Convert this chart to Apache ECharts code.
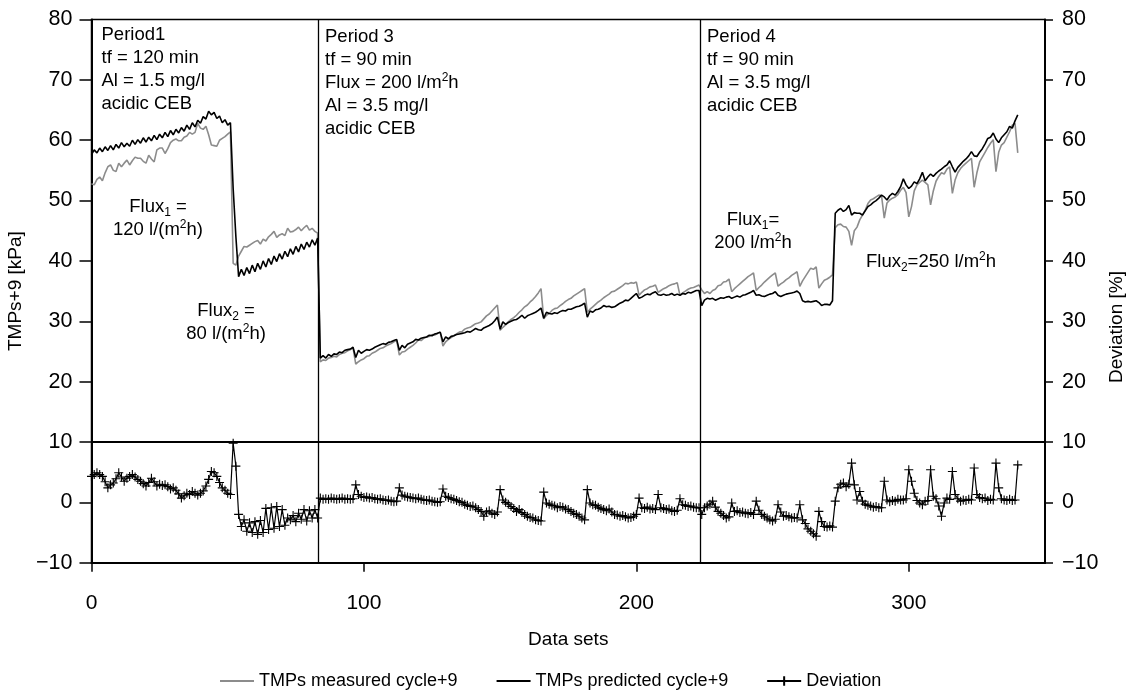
<!DOCTYPE html>
<html><head><meta charset="utf-8">
<script src="https://cdn.jsdelivr.net/npm/echarts@6/dist/echarts.min.js"></script>
<style>html,body{margin:0;padding:0;background:#fff}#c{width:1137px;height:690px}</style>
</head><body><div id="c"></div>
<script>
// ---- axis / tick data ----
const xTickValues = [0, 100, 200, 300];
const xRange = [0, 350];
const yRange = [-10, 80];
const periodBoundaries = [83.4, 223.3];
const deviationZoneTop = 10;

// ---- TMPs measured cycle+9 (data sets 0..340) ----
const measuredP1 = [
  52.8, 52.6, 53.5, 53.9, 53.3, 54.6, 55.6, 55.9, 55.0, 54.8,
  56.2, 55.6, 56.2, 56.7, 55.9, 56.6, 57.2, 57.0, 57.0, 56.5,
  56.2, 57.5, 56.9, 56.4, 58.4, 58.7, 58.7, 57.8, 58.6, 59.6,
  60.0, 60.2, 59.9, 59.9, 60.5, 60.7, 61.3, 61.0, 61.3, 62.8,
  62.0, 61.8, 62.3, 60.9, 59.2, 59.1, 59.0, 60.0, 60.3, 60.6,
  61.0, 61.4,
  39.6, 39.3, 40.8, 41.6, 42.4, 42.3, 42.6, 42.9, 43.2, 43.4,
  42.8, 43.6, 43.3, 44.0, 44.4, 44.9, 43.9, 44.3, 44.5, 44.2,
  45.4, 44.8, 44.9, 45.2, 45.6, 45.0, 45.5, 45.9, 45.1, 45.4,
  44.9, 44.6
];
const measuredP3 = [
  23.3, 23.6, 23.5, 23.9, 24.0, 24.2, 24.1, 24.5, 24.7, 24.8, 25.1, 25.3, 25.6,
  22.9, 23.3, 23.6, 23.8, 24.2, 24.3, 24.7, 24.9, 25.2, 25.5, 25.6, 25.9, 26.1, 26.3, 26.6, 26.9,
  24.4, 24.9, 25.0, 25.4, 25.7, 26.0, 26.4, 26.9, 26.8, 27.2, 27.4, 27.5, 27.8, 27.7, 28.0, 28.2,
  25.9, 26.6, 27.0, 27.3, 27.6, 27.9, 28.2, 28.3, 28.7, 28.9, 29.0, 29.3, 29.6, 29.7, 29.9, 30.4, 30.9, 31.2, 31.7, 32.2, 32.7,
  28.5, 29.0, 29.4, 29.9, 30.3, 30.6, 31.0, 31.5, 31.9, 32.4, 32.7, 33.2, 33.6, 34.1, 34.7, 35.4,
  30.4, 31.0, 31.3, 31.8, 32.1, 32.2, 32.6, 32.9, 33.3, 33.6, 33.8, 34.2, 34.5, 34.8, 35.1, 35.4,
  31.5, 32.0, 32.4, 32.8, 33.2, 33.5, 33.9, 34.2, 34.5, 34.9, 35.0, 35.3, 35.6, 35.9, 36.3, 36.2, 36.4, 36.3, 36.5,
  34.3, 34.8, 35.2, 35.4, 35.7, 35.8, 36.0,
  34.8, 35.1, 35.4, 35.6, 35.9, 36.1, 36.2, 36.4,
  34.3, 34.7, 35.0, 35.3, 35.5, 35.6, 35.8, 36.0
];
const measuredP4 = [
  35.2, 34.6, 34.9, 34.6, 35.1, 35.3, 35.9, 36.0, 36.5, 36.6, 37.0,
  34.9, 35.4, 35.8, 36.2, 36.6, 37.0, 37.4, 37.7, 38.0,
  35.1, 35.6, 36.0, 36.5, 36.9, 37.3, 37.7, 38.0,
  35.8, 36.2, 36.5, 36.9, 37.2, 37.6, 37.9, 38.2,
  35.8, 36.7, 37.4, 38.1, 38.8, 38.6, 39.0,
  35.5, 36.2, 36.8, 37.0, 37.3, 37.7,
  45.5, 46.0, 46.1, 45.7, 45.6, 44.9, 42.6, 45.0, 45.6, 46.8,
  47.6, 48.4, 49.5, 50.1, 50.3, 50.6, 50.9, 50.8, 47.1, 49.6,
  50.1, 50.4, 50.6, 51.0, 51.7, 52.2, 51.3, 47.3, 49.0, 51.6,
  52.6, 53.0, 53.4, 53.0, 52.6, 49.3, 51.6, 53.2, 54.0, 54.6,
  54.4, 55.2, 55.6, 51.2, 53.4, 54.6, 55.3, 55.8, 56.2, 56.6,
  57.0, 52.2, 54.6, 56.4, 57.2, 58.0, 58.8, 59.5, 60.1, 54.8,
  58.0, 59.2, 59.6, 60.5, 61.4, 62.5, 62.8, 57.9
];

// ---- TMPs predicted cycle+9 ----
const predictedP1 = [
  57.6, 58.4, 57.9, 58.7, 58.1, 58.9, 58.3, 59.1, 58.4, 59.3,
  58.7, 59.6, 58.9, 59.5, 59.0, 60.0, 59.3, 60.1, 59.5, 60.4,
  59.7, 60.5, 59.9, 60.8, 60.1, 61.0, 60.4, 61.3, 60.6, 61.6,
  60.9, 61.8, 61.2, 62.1, 61.5, 62.5, 61.8, 62.9, 62.2, 63.3,
  62.8, 63.9, 63.5, 64.8, 64.2, 64.6, 63.6, 64.0, 62.9, 63.4,
  62.5, 62.9,
  52.0, 44.0, 37.4, 38.6, 37.6, 38.9, 37.9, 39.3, 38.2, 39.6,
  38.6, 40.0, 39.0, 40.4, 39.4, 40.8, 39.9, 41.2, 40.3, 41.6,
  40.7, 42.0, 41.1, 42.4, 41.5, 42.8, 41.9, 43.1, 42.3, 43.5,
  42.6, 43.8
];
const predictedP3 = [
  23.9, 24.3, 23.9, 24.5, 24.2, 24.6, 24.5, 24.9, 24.8, 25.2, 25.3, 25.4, 25.7,
  24.0, 25.2, 24.7, 25.0, 25.3, 25.2, 25.4, 25.7, 25.9, 26.1, 26.3, 26.2, 26.5, 26.6, 26.8, 27.0,
  25.2, 26.0, 25.6, 26.2, 26.4, 26.6, 27.0, 26.9, 27.2, 27.3, 27.4, 27.7, 27.6, 27.9, 28.0, 28.2,
  26.6, 27.4, 27.1, 27.5, 27.6, 27.8, 27.9, 28.0, 28.1, 28.3, 28.2, 28.5, 28.8, 28.6, 28.5, 28.9, 29.1, 29.3, 29.6, 30.1, 30.7,
  28.7, 29.9, 29.5, 29.8, 30.0, 30.2, 30.3, 30.6, 31.0, 30.5, 30.9, 31.1, 31.3, 31.5, 31.8, 32.2,
  30.5, 31.5, 31.3, 31.2, 31.4, 31.3, 31.6, 31.8, 31.7, 32.0, 32.0, 32.2, 32.4, 32.5, 32.7, 33.0,
  30.7, 31.7, 31.5, 31.9, 32.0, 32.2, 32.6, 32.4, 32.5, 32.3, 32.4, 32.7, 33.0, 33.2, 33.5, 33.4, 33.8, 34.2, 34.6,
  33.8, 34.0, 34.3, 34.5, 34.4, 34.7, 34.9,
  34.4, 34.3, 34.5, 34.3, 34.4, 34.6, 34.3, 34.5,
  34.3, 34.6, 34.5, 34.8, 34.7, 34.9, 35.1, 35.1
];
const predictedP4 = [
  32.6, 33.5, 33.8, 33.7, 33.8, 33.5, 33.7, 33.9, 33.8, 34.0, 34.1,
  33.8, 34.0, 34.2, 34.0, 34.3, 34.4, 34.6, 34.8, 35.1,
  34.3, 34.4, 34.2, 34.1, 34.3, 34.5, 34.6, 34.9,
  34.3, 34.1, 34.3, 34.5, 34.6, 34.7, 34.8, 35.0,
  34.6, 33.4, 33.2, 33.3, 33.2, 33.3, 33.4,
  33.1, 32.6, 32.8, 32.8, 32.7, 33.4,
  47.9, 48.4, 48.7, 48.2, 48.5, 49.2, 47.6, 48.0, 47.9, 47.9,
  47.6, 48.3, 49.0, 49.3, 49.7, 50.0, 50.4, 50.9, 50.6, 50.1,
  50.8, 51.2, 50.9, 51.5, 52.3, 53.6, 52.6, 52.0, 52.4, 53.1,
  52.8, 53.6, 54.7, 53.3, 53.9, 54.4, 54.0, 54.5, 54.9, 55.2,
  55.6, 55.9, 56.6, 55.6, 54.7, 55.5, 56.0, 56.5, 56.9, 57.4,
  58.1, 57.4, 57.3, 58.0, 58.6, 59.4, 60.3, 60.5, 61.2, 60.2,
  59.6, 60.4, 60.9, 61.4, 62.3, 62.0, 63.2, 64.2
];

// ---- Deviation [%] ----
const deviationP1 = [
  4.3, 4.6, 4.9, 4.6, 4.3, 3.4, 2.4, 2.9, 3.2, 3.9,
  4.9, 4.2, 3.5, 4.0, 4.3, 4.6, 4.2, 3.8, 3.5, 3.1,
  2.7, 3.3, 4.0, 3.4, 2.7, 3.0, 2.8, 2.9, 2.6, 2.2,
  2.4, 2.0, 1.4, 0.7, 1.1, 1.5, 1.3, 1.8, 1.5, 1.2,
  1.5, 1.9, 2.7, 3.8, 5.1, 4.9, 4.3, 3.3, 2.4, 2.0,
  1.5, 1.3,
  9.8, 6.0, -2.0, -4.0, -2.9, -4.8, -3.4, -5.0, -3.2, -5.3,
  -3.0, -5.0, -1.0, -4.5, -0.9, -4.3, -0.7, -4.0, -1.2, -3.8,
  -2.6, -2.9, -2.2, -3.2, -1.8, -2.8, -1.2, -3.1, -1.4, -2.6,
  -1.2, -2.6
];
const deviationP3 = [
  0.7, 0.5, 0.6, 0.5, 0.7, 0.6, 0.5, 0.6, 0.7, 0.5, 0.6, 0.5, 0.6,
  2.9, 1.3, 1.0, 0.8, 0.9, 0.7, 0.8, 0.6, 0.5, 0.6, 0.4, 0.3, 0.4, 0.2, 0.1, 0.2,
  2.4, 1.2, 1.0, 0.9, 0.8, 0.7, 0.6, 0.7, 0.5, 0.4, 0.3, 0.4, 0.2, 0.1, 0.0, 0.1,
  2.2, 1.0, 0.8, 0.6, 0.5, 0.3, 0.1, 0.0, -0.3, -0.5, -0.7, -0.6, -0.9, -1.2, -1.5, -2.3, -1.6, -1.4, -1.8, -2.0, -1.6,
  2.1, 0.4, 0.0, -0.3, -0.7, -1.0, -1.5, -1.2, -1.7, -2.0, -2.3, -2.5, -2.6, -2.9, -3.0, -3.1,
  1.7, -0.1, -0.3, -0.5, -0.6, -0.9, -0.7, -0.8, -1.1, -1.2, -1.5, -1.8, -2.0, -2.3, -2.6, -2.9,
  2.1, -0.1, -0.4, -0.5, -0.8, -1.0, -1.2, -1.4, -1.1, -1.6, -2.0, -2.1, -2.3, -2.2, -2.4, -2.6, -2.5, -2.3, -2.0,
  0.7, -0.9, -1.0, -0.8, -1.1, -1.0, -1.2,
  1.3, -0.9, -1.0, -1.2, -1.1, -1.4, -1.5, -1.3,
  0.6, -0.4, -0.5, -0.7, -0.6, -0.8, -0.9, -0.9
];
const deviationP4 = [
  -2.0, -0.9, -0.6, -0.3, 0.2, -0.8, -1.5, -1.8, -2.2, -2.6, -2.4,
  -0.1, -1.5, -1.4, -1.7, -1.6, -1.8, -1.9, -1.7, -2.0,
  0.2, -1.3, -2.0, -2.3, -2.6, -2.9, -3.1, -2.8,
  -0.4, -1.6, -2.3, -2.2, -2.4, -2.6, -2.5, -2.6,
  -0.4, -2.9, -3.5, -4.4, -4.8, -5.2, -5.6,
  -1.5, -3.2, -4.0, -4.1, -3.9, -4.1,
  0.2, 2.4, 3.0, 3.2, 2.6, 3.0, 6.5, 2.9, 0.4, 1.8,
  0.2, -0.3, -0.5, -0.6, -0.8, -0.7, -0.9, -0.9, 3.5, 0.4,
  0.1, 0.3, 0.2, 0.5, 0.4, 0.4, 0.6, 5.4, 3.5, 1.5,
  0.3, -0.1, -0.4, 0.2, 0.3, 5.4, 1.0, 0.6, -0.6, -2.3,
  -0.1, 0.7, 0.5, 5.1, 1.3, 0.6, 0.2, 0.4, 0.3, 0.5,
  0.4, 5.7, 1.3, 0.8, 0.6, 0.7, 0.3, 0.5, 0.4, 6.5,
  2.4, 0.6, 0.4, 0.3, 0.5, 0.3, 0.4, 6.2
];

const measured = measuredP1.concat(measuredP3, measuredP4);
const predicted = predictedP1.concat(predictedP3, predictedP4);
const deviation = deviationP1.concat(deviationP3, deviationP4);
const toPairs = arr => arr.map((v, i) => [i, v]);

const FONT = "'Liberation Sans', Arial, Helvetica, sans-serif";
const chart = echarts.init(document.getElementById('c'));

const richStyles = {
  sup: { fontSize: 12, fontFamily: FONT, fill: '#000', lineHeight: 12, verticalAlign: 'top' },
  sub: { fontSize: 12, fontFamily: FONT, fill: '#000', lineHeight: 12, verticalAlign: 'bottom' }
};
function note(x, y, text, align) {
  return {
    type: 'text', x: x, y: y, z: 50,
    style: {
      text: text, fill: '#000', fontSize: 18.5, fontFamily: FONT,
      lineHeight: 23, textAlign: align || 'left', verticalAlign: 'top',
      rich: richStyles
    }
  };
}
const minusFmt = v => String(v).replace('-', '\u2212');
const plusSymbol = 'path://M0,5L10,5M5,0L5,10';

chart.setOption({
  animation: false,
  backgroundColor: '#fff',
  grid: {
    left: 91.5, right: 92, top: 19.5, bottom: 127.3,
    containLabel: false, outerBoundsMode: 'none',
    show: true, borderColor: '#000', borderWidth: 1.5, backgroundColor: 'transparent'
  },
  legend: {
    data: [
      { name: 'TMPs measured cycle+9', itemStyle: { opacity: 0 } },
      { name: 'TMPs predicted cycle+9', itemStyle: { opacity: 0 } },
      { name: 'Deviation' }
    ],
    left: 214, top: 667, itemWidth: 34, itemHeight: 12, itemGap: 38,
    textStyle: { fontSize: 18, fontFamily: FONT, color: '#000' }
  },
  xAxis: {
    type: 'value', min: xRange[0], max: xRange[1], interval: 100,
    name: 'Data sets', nameLocation: 'middle', nameGap: 68,
    nameTextStyle: { fontSize: 19, fontFamily: FONT, color: '#000' },
    axisLine: { show: true, onZero: false, lineStyle: { color: '#000', width: 2 } },
    axisTick: { show: true, length: 9, customValues: xTickValues, lineStyle: { color: '#000', width: 1.5 } },
    axisLabel: { customValues: xTickValues, margin: 30, fontSize: 21, fontFamily: FONT, color: '#000' },
    splitLine: { show: false }
  },
  yAxis: [
    {
      type: 'value', min: yRange[0], max: yRange[1], interval: 10, position: 'left',
      name: 'TMPs+9 [kPa]', nameLocation: 'middle', nameGap: 64,
      nameTextStyle: { fontSize: 19, fontFamily: FONT, color: '#000' },
      axisLine: { show: true, onZero: false, lineStyle: { color: '#000', width: 2 } },
      axisTick: { show: true, length: 12, lineStyle: { color: '#000', width: 1.5 } },
      axisLabel: { margin: 19, fontSize: 21.5, fontFamily: FONT, color: '#000', formatter: minusFmt },
      splitLine: { show: false }
    },
    {
      type: 'value', min: yRange[0], max: yRange[1], interval: 10, position: 'right',
      axisLine: { show: true, onZero: false, lineStyle: { color: '#000', width: 2 } },
      axisTick: { show: true, length: 8, lineStyle: { color: '#000', width: 1.5 } },
      axisLabel: { margin: 17, fontSize: 21.5, fontFamily: FONT, color: '#000', formatter: minusFmt },
      splitLine: { show: false }
    },
    {
      type: 'value', min: yRange[0], max: yRange[1], interval: 10, position: 'right',
      axisLine: { show: false },
      axisTick: { show: true, inside: true, length: 10, lineStyle: { color: '#000', width: 1.5 } },
      axisLabel: { show: false },
      splitLine: { show: false }
    }
  ],
  series: [
    {
      name: 'TMPs measured cycle+9', type: 'line', data: toPairs(measured),
      symbol: 'none', z: 2,
      lineStyle: { color: '#8c8c8c', width: 1.6 }, itemStyle: { color: '#8c8c8c' },
      emphasis: { disabled: true }
    },
    {
      name: 'TMPs predicted cycle+9', type: 'line', data: toPairs(predicted),
      symbol: 'none', z: 3,
      lineStyle: { color: '#000', width: 1.6 }, itemStyle: { color: '#000' },
      emphasis: { disabled: true }
    },
    {
      name: 'Deviation', type: 'line', data: toPairs(deviation),
      symbol: plusSymbol, symbolSize: 9, showAllSymbol: true, z: 4,
      lineStyle: { color: '#000', width: 1.2 },
      itemStyle: { color: '#000', borderColor: '#000', borderWidth: 1.1 },
      emphasis: { disabled: true },
      markLine: {
        silent: true, symbol: ['none', 'none'], label: { show: false },
        lineStyle: { color: '#000', type: 'solid', width: 1.3 },
        emphasis: { disabled: true },
        data: [
          { xAxis: periodBoundaries[0] },
          { xAxis: periodBoundaries[1] },
          { yAxis: deviationZoneTop, lineStyle: { width: 2, color: '#000', type: 'solid' } }
        ]
      }
    }
  ],
  graphic: [
    note(101.5, 23.5, 'Period1\ntf = 120 min\nAl = 1.5 mg/l\nacidic CEB'),
    note(325, 25.5, 'Period 3\ntf = 90 min\nFlux = 200 l/m{sup|2}h\nAl = 3.5 mg/l\nacidic CEB'),
    note(707, 25.5, 'Period 4\ntf = 90 min\nAl = 3.5 mg/l\nacidic CEB'),
    note(158, 195.5, 'Flux{sub|1} =\n120 l/(m{sup|2}h)', 'center'),
    note(226, 299.5, 'Flux{sub|2} =\n80 l/(m{sup|2}h)', 'center'),
    note(753, 208.5, 'Flux{sub|1}=\n200 l/m{sup|2}h', 'center'),
    note(931, 250.5, 'Flux{sub|2}=250 l/m{sup|2}h', 'center'),
    {
      type: 'text', x: 1117, y: 327, rotation: Math.PI / 2, z: 50,
      style: { text: 'Deviation [%]', fill: '#000', fontSize: 19, fontFamily: FONT,
               textAlign: 'center', verticalAlign: 'middle' }
    }
  ]
});
</script>
</body></html>
